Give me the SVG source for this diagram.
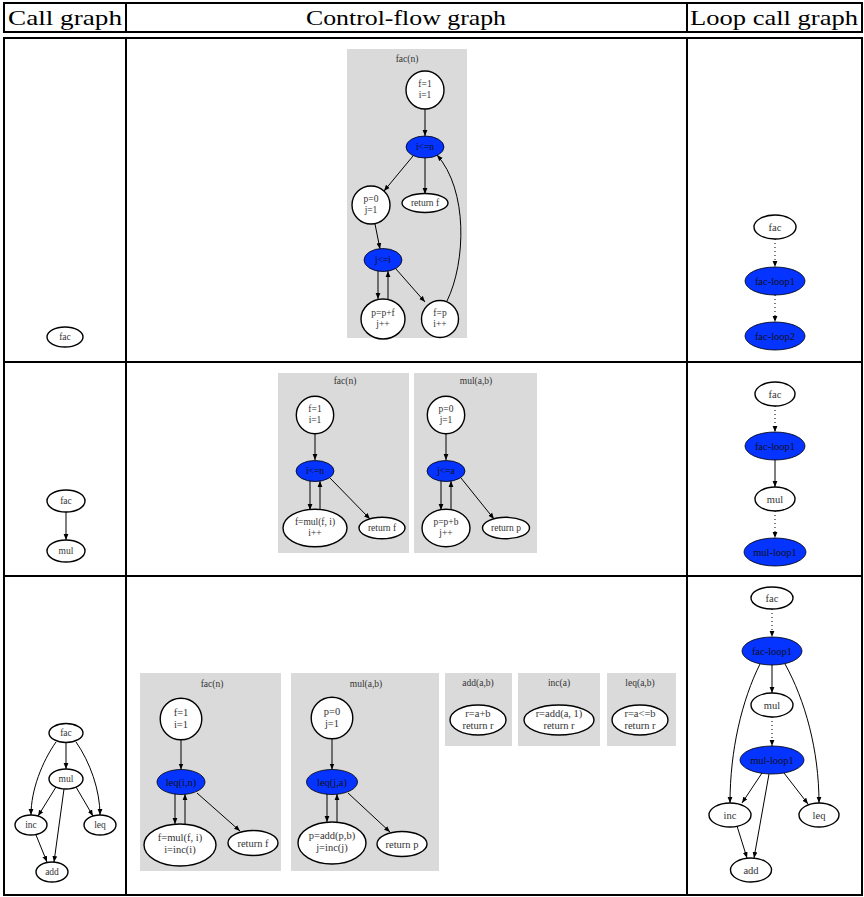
<svg xmlns="http://www.w3.org/2000/svg" width="864" height="897" viewBox="0 0 864 897">
<style>
.grid{fill:none;stroke:#000;stroke-width:2}
.hdr{font-family:"Liberation Serif","Times New Roman",serif;font-size:22px;fill:#000;text-anchor:middle}
.box{fill:#dadada}
.ttl{font-family:"Liberation Serif","Times New Roman",serif;font-size:9.5px;fill:#333;text-anchor:middle}
.w{fill:#fff;stroke:#000;stroke-width:1.4}
.b{fill:#0533ff;stroke:#000;stroke-width:0.8}
.lbl{font-family:"Liberation Serif","Times New Roman",serif;font-size:9.5px;fill:#333;text-anchor:middle}
.lb{font-family:"Liberation Serif","Times New Roman",serif;font-size:9.5px;fill:#111;text-anchor:middle}
.e{fill:none;stroke:#000;stroke-width:1;marker-end:url(#ah)}
.d{fill:none;stroke:#000;stroke-width:1;stroke-dasharray:1,3;marker-end:url(#ah)}
.big{font-size:10.5px}
</style>
<defs>
<marker id="ah" viewBox="0 0 10 10" refX="10" refY="5" markerWidth="6" markerHeight="6" markerUnits="userSpaceOnUse" orient="auto">
<path d="M0,1 L10,5 L0,9 Z" fill="#000"/>
</marker>
</defs>
<rect width="864" height="897" fill="#fff"/>

<g id="table">
<rect class="grid" x="4" y="3" width="858" height="29"/>
<line class="grid" x1="126" y1="3" x2="126" y2="32"/>
<line class="grid" x1="687" y1="3" x2="687" y2="32"/>
<rect class="grid" x="4" y="38" width="858" height="857"/>
<line class="grid" x1="126" y1="38" x2="126" y2="895"/>
<line class="grid" x1="687" y1="38" x2="687" y2="895"/>
<line class="grid" x1="4" y1="362" x2="862" y2="362"/>
<line class="grid" x1="4" y1="576" x2="862" y2="576"/>
<text class="hdr" x="65" y="25" textLength="114" lengthAdjust="spacingAndGlyphs">Call graph</text>
<text class="hdr" x="406" y="25" textLength="200" lengthAdjust="spacingAndGlyphs">Control-flow graph</text>
<text class="hdr" x="774" y="25" textLength="168" lengthAdjust="spacingAndGlyphs">Loop call graph</text>
</g>

<g id="clusters">
<rect class="box" x="347" y="49" width="120" height="289"/>
<text class="ttl" x="407" y="62">fac(n)</text>
<rect class="box" x="278" y="373" width="131" height="180"/>
<text class="ttl" x="345" y="384">fac(n)</text>
<rect class="box" x="414" y="373" width="123" height="180"/>
<text class="ttl" x="476" y="384">mul(a,b)</text>
<rect class="box" x="140" y="673" width="141" height="198"/>
<text class="ttl" x="212" y="687">fac(n)</text>
<rect class="box" x="291" y="673" width="148" height="198"/>
<text class="ttl" x="366" y="687">mul(a,b)</text>
<rect class="box" x="445" y="673" width="67" height="73"/>
<text class="ttl" x="478" y="686">add(a,b)</text>
<rect class="box" x="518" y="673" width="82" height="73"/>
<text class="ttl" x="559" y="686">inc(a)</text>
<rect class="box" x="607" y="673" width="69" height="73"/>
<text class="ttl" x="640" y="686">leq(a,b)</text>
</g>

<g id="connectors">
<line class="e" x1="425" y1="109" x2="425" y2="136"/>
<line class="e" x1="413" y1="156" x2="384" y2="191"/>
<line class="e" x1="425" y1="158" x2="425" y2="194"/>
<line class="e" x1="375" y1="224" x2="380" y2="249"/>
<line class="e" x1="378" y1="271" x2="378" y2="299"/>
<line class="e" x1="388" y1="299" x2="388" y2="271"/>
<line class="e" x1="396" y1="269" x2="425" y2="302"/>
<path class="e" d="M447,301 C466,262 468,190 437,155"/>
<line class="d" x1="775" y1="239" x2="775" y2="267"/>
<line class="d" x1="775" y1="295" x2="775" y2="322"/>
<line class="e" x1="66" y1="512" x2="66" y2="540"/>
<line class="e" x1="315" y1="434" x2="315" y2="460"/>
<line class="e" x1="310" y1="481" x2="310" y2="510"/>
<line class="e" x1="320" y1="510" x2="320" y2="481"/>
<line class="e" x1="330" y1="478" x2="370" y2="519"/>
<line class="e" x1="446" y1="434" x2="446" y2="460"/>
<line class="e" x1="441" y1="481" x2="441" y2="510"/>
<line class="e" x1="451" y1="510" x2="451" y2="481"/>
<line class="e" x1="461" y1="478" x2="494" y2="519"/>
<line class="d" x1="775" y1="406" x2="775" y2="432"/>
<line class="e" x1="775" y1="460" x2="775" y2="487"/>
<line class="d" x1="775" y1="511" x2="775" y2="538"/>
<line class="e" x1="66" y1="742.5" x2="66" y2="769"/>
<path class="e" d="M56,742 C42,762 31,790 31,815"/>
<path class="e" d="M76,742 C90,762 100,790 100,815"/>
<line class="e" x1="56" y1="787" x2="38" y2="816"/>
<line class="e" x1="64" y1="789" x2="54" y2="862"/>
<line class="e" x1="76" y1="787" x2="93" y2="816"/>
<line class="e" x1="36" y1="835" x2="47" y2="862"/>
<line class="e" x1="181" y1="740" x2="181" y2="769.5"/>
<line class="e" x1="175" y1="794" x2="175" y2="824"/>
<line class="e" x1="185" y1="824" x2="185" y2="794"/>
<line class="e" x1="197" y1="793" x2="240" y2="831"/>
<line class="e" x1="332" y1="739" x2="332" y2="769.5"/>
<line class="e" x1="327" y1="794" x2="327" y2="822"/>
<line class="e" x1="337" y1="822" x2="337" y2="794"/>
<line class="e" x1="348" y1="793" x2="390" y2="832"/>
<line class="d" x1="772" y1="609" x2="772" y2="637"/>
<line class="e" x1="772" y1="665" x2="772" y2="693"/>
<line class="d" x1="772" y1="717" x2="772" y2="746"/>
<path class="e" d="M760,664 C742,700 730,750 730,803"/>
<path class="e" d="M785,664 C805,700 819,750 819,803"/>
<line class="e" x1="762" y1="773" x2="742" y2="803"/>
<line class="e" x1="769" y1="774" x2="754" y2="858"/>
<line class="e" x1="784" y1="773" x2="808" y2="804"/>
<line class="e" x1="737" y1="826" x2="747" y2="858"/>
</g>

<g id="r1-call-fac"><ellipse class="w" cx="65" cy="337" rx="18" ry="10"/><text class="lbl" x="65" y="340">fac</text></g>
<g id="r1-cfg-entry"><circle class="w" cx="425" cy="90" r="19"/><text class="lbl" x="425" y="87">f=1</text><text class="lbl" x="425" y="98">i=1</text></g>
<g id="r1-cfg-ilen"><ellipse class="b" cx="425" cy="147" rx="19" ry="11"/><text class="lb" x="425" y="150">i&lt;=n</text></g>
<g id="r1-cfg-p0"><circle class="w" cx="371" cy="205" r="19"/><text class="lbl" x="371" y="202">p=0</text><text class="lbl" x="371" y="213">j=1</text></g>
<g id="r1-cfg-retf"><ellipse class="w" cx="425" cy="203" rx="23" ry="9.5"/><text class="lbl" x="425" y="206">return f</text></g>
<g id="r1-cfg-jlei"><ellipse class="b" cx="383" cy="260" rx="19" ry="11.5"/><text class="lb" x="383" y="263">j&lt;=i</text></g>
<g id="r1-cfg-ppf"><ellipse class="w" cx="383" cy="319" rx="22" ry="20"/><text class="lbl" x="383" y="316">p=p+f</text><text class="lbl" x="383" y="327">j++</text></g>
<g id="r1-cfg-fp"><circle class="w" cx="440" cy="319" r="18.5"/><text class="lbl" x="440" y="316">f=p</text><text class="lbl" x="440" y="327">i++</text></g>
<g id="r1-loop-fac"><ellipse class="w" cx="775" cy="227" rx="21" ry="12"/><text class="lbl big" x="775" y="231">fac</text></g>
<g id="r1-loop-fl1"><ellipse class="b" cx="775" cy="281" rx="30" ry="14"/><text class="lb big" x="775" y="285">fac-loop1</text></g>
<g id="r1-loop-fl2"><ellipse class="b" cx="775" cy="336" rx="30" ry="14"/><text class="lb big" x="775" y="340">fac-loop2</text></g>

<g id="r2-call-fac"><ellipse class="w" cx="66" cy="501" rx="19" ry="11"/><text class="lbl" x="66" y="504">fac</text></g>
<g id="r2-call-mul"><ellipse class="w" cx="66" cy="551" rx="19" ry="11"/><text class="lbl" x="66" y="554">mul</text></g>
<g id="r2-fac-entry"><circle class="w" cx="315" cy="415" r="18.7"/><text class="lbl" x="315" y="412">f=1</text><text class="lbl" x="315" y="423">i=1</text></g>
<g id="r2-fac-ilen"><ellipse class="b" cx="315" cy="471" rx="19" ry="10.5"/><text class="lb" x="315" y="474">i&lt;=n</text></g>
<g id="r2-fac-body"><ellipse class="w" cx="315" cy="528" rx="32" ry="18.8"/><text class="lbl" x="315" y="525">f=mul(f, i)</text><text class="lbl" x="315" y="536">i++</text></g>
<g id="r2-fac-ret"><ellipse class="w" cx="382" cy="528" rx="23" ry="10.7"/><text class="lbl" x="382" y="531">return f</text></g>
<g id="r2-mul-entry"><circle class="w" cx="446" cy="415" r="18.7"/><text class="lbl" x="446" y="412">p=0</text><text class="lbl" x="446" y="423">j=1</text></g>
<g id="r2-mul-jlea"><ellipse class="b" cx="446" cy="471" rx="19" ry="10.5"/><text class="lb" x="446" y="474">j&lt;=a</text></g>
<g id="r2-mul-body"><ellipse class="w" cx="446" cy="528" rx="24" ry="18.8"/><text class="lbl" x="446" y="525">p=p+b</text><text class="lbl" x="446" y="536">j++</text></g>
<g id="r2-mul-ret"><ellipse class="w" cx="506" cy="528" rx="23.5" ry="10.7"/><text class="lbl" x="506" y="531">return p</text></g>
<g id="r2-loop-fac"><ellipse class="w" cx="775" cy="394" rx="20" ry="12"/><text class="lbl big" x="775" y="398">fac</text></g>
<g id="r2-loop-fl1"><ellipse class="b" cx="775" cy="446" rx="30" ry="14"/><text class="lb big" x="775" y="450">fac-loop1</text></g>
<g id="r2-loop-mul"><ellipse class="w" cx="775" cy="499" rx="20" ry="12"/><text class="lbl big" x="775" y="503">mul</text></g>
<g id="r2-loop-ml1"><ellipse class="b" cx="775" cy="552" rx="31" ry="14"/><text class="lb big" x="775" y="556">mul-loop1</text></g>

<g id="r3-call-fac"><ellipse class="w" cx="66" cy="733" rx="17" ry="9.5"/><text class="lbl" x="66" y="736">fac</text></g>
<g id="r3-call-mul"><ellipse class="w" cx="66" cy="779" rx="17" ry="10"/><text class="lbl" x="66" y="782">mul</text></g>
<g id="r3-call-inc"><ellipse class="w" cx="31" cy="825" rx="16" ry="10"/><text class="lbl" x="31" y="828">inc</text></g>
<g id="r3-call-leq"><ellipse class="w" cx="100" cy="825" rx="16" ry="10"/><text class="lbl" x="100" y="828">leq</text></g>
<g id="r3-call-add"><ellipse class="w" cx="52" cy="872" rx="16" ry="10"/><text class="lbl" x="52" y="875">add</text></g>
<g id="r3-fac-entry"><circle class="w" cx="181" cy="719" r="20.8"/><text class="lbl big" x="181" y="716">f=1</text><text class="lbl big" x="181" y="728">i=1</text></g>
<g id="r3-fac-leq"><ellipse class="b" cx="181" cy="782" rx="24" ry="12.5"/><text class="lb big" x="181" y="786">leq(i,n)</text></g>
<g id="r3-fac-body"><ellipse class="w" cx="180" cy="845" rx="36" ry="21"/><text class="lbl big" x="180" y="841">f=mul(f, i)</text><text class="lbl big" x="180" y="853">i=inc(i)</text></g>
<g id="r3-fac-ret"><ellipse class="w" cx="253" cy="843" rx="25" ry="12.5"/><text class="lbl big" x="253" y="847">return f</text></g>
<g id="r3-mul-entry"><circle class="w" cx="332" cy="718" r="20.8"/><text class="lbl big" x="332" y="715">p=0</text><text class="lbl big" x="332" y="727">j=1</text></g>
<g id="r3-mul-leq"><ellipse class="b" cx="332" cy="782" rx="25.5" ry="12.5"/><text class="lb big" x="332" y="786">leq(j,a)</text></g>
<g id="r3-mul-body"><ellipse class="w" cx="332" cy="843" rx="34" ry="21"/><text class="lbl big" x="332" y="839">p=add(p,b)</text><text class="lbl big" x="332" y="851">j=inc(j)</text></g>
<g id="r3-mul-ret"><ellipse class="w" cx="402" cy="844" rx="25" ry="12.5"/><text class="lbl big" x="402" y="848">return p</text></g>
<g id="r3-add-body"><ellipse class="w" cx="478" cy="720" rx="28" ry="15"/><text class="lbl big" x="478" y="717">r=a+b</text><text class="lbl big" x="478" y="729">return r</text></g>
<g id="r3-inc-body"><ellipse class="w" cx="559" cy="720" rx="35" ry="15"/><text class="lbl big" x="559" y="717">r=add(a, 1)</text><text class="lbl big" x="559" y="729">return r</text></g>
<g id="r3-leq-body"><ellipse class="w" cx="640" cy="720" rx="28" ry="15"/><text class="lbl big" x="640" y="717">r=a&lt;=b</text><text class="lbl big" x="640" y="729">return r</text></g>
<g id="r3-loop-fac"><ellipse class="w" cx="772" cy="598" rx="21" ry="11"/><text class="lbl big" x="772" y="602">fac</text></g>
<g id="r3-loop-fl1"><ellipse class="b" cx="772" cy="651" rx="30" ry="14"/><text class="lb big" x="772" y="655">fac-loop1</text></g>
<g id="r3-loop-mul"><ellipse class="w" cx="772" cy="705" rx="21" ry="12"/><text class="lbl big" x="772" y="709">mul</text></g>
<g id="r3-loop-ml1"><ellipse class="b" cx="772" cy="760" rx="32" ry="14"/><text class="lb big" x="772" y="764">mul-loop1</text></g>
<g id="r3-loop-inc"><ellipse class="w" cx="730" cy="815" rx="21" ry="12"/><text class="lbl big" x="730" y="819">inc</text></g>
<g id="r3-loop-leq"><ellipse class="w" cx="819" cy="815" rx="20" ry="12"/><text class="lbl big" x="819" y="819">leq</text></g>
<g id="r3-loop-add"><ellipse class="w" cx="751" cy="870" rx="20.5" ry="12"/><text class="lbl big" x="751" y="874">add</text></g>
</svg>
